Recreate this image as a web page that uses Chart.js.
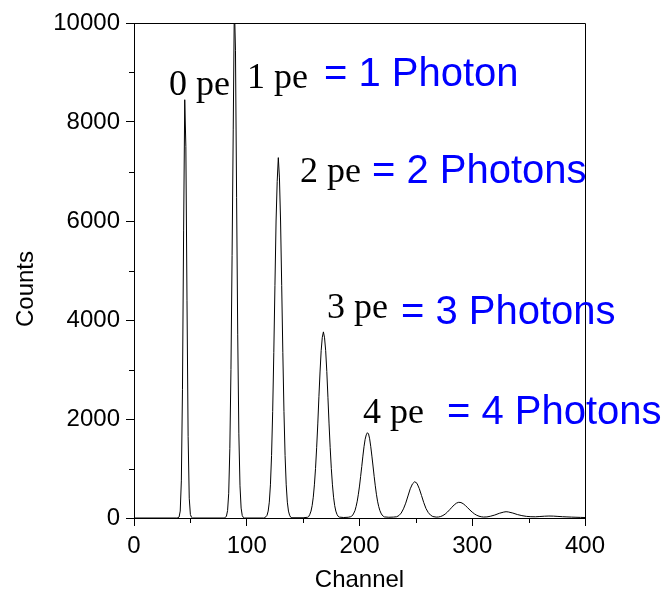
<!DOCTYPE html>
<html>
<head>
<meta charset="utf-8">
<script src="https://cdn.jsdelivr.net/npm/chart.js@4.4.1/dist/chart.umd.min.js"></script>
<style>
    html, body { margin: 0; padding: 0; background: #fff; }
    #wrap { width: 664px; height: 595px; }
</style>
</head>
<body>
<div id="wrap"><canvas id="spectrum" width="664" height="595"></canvas></div>
<script>
// Channel / counts
const channels = [
    0, 38, 39, 40, 41, 42, 43, 44, 45, 46, 47, 48, 49, 50, 51, 52,
    80, 81, 82, 83, 84, 85, 86, 87, 88, 89, 90, 91, 92, 93, 94, 95, 96, 97, 98,
    115, 116, 117, 118, 119, 120, 121, 122, 123, 124, 125, 126, 127, 128, 129, 130,
    131, 132, 133, 134, 135, 136, 137, 138, 139, 140,
    150, 154, 155, 156, 157, 158, 159, 160, 161, 162, 163, 164, 165, 166, 167, 168,
    169, 170, 171, 172, 173, 174, 175, 176, 177, 178, 179, 180, 181, 182,
    186, 190, 192, 193, 194, 195, 196, 197, 198, 199, 200, 201, 202, 203, 204, 205,
    206, 207, 208, 209, 210, 211, 212, 213, 214, 215, 216, 217, 218, 219, 220, 221, 222,
    226, 230, 233, 235, 237, 239, 241, 243, 245, 247, 249, 251, 253, 255, 257, 259,
    261, 263, 265, 268,
    270, 272, 274, 276, 278, 280, 282, 284, 286, 288, 290, 292, 294, 296, 298, 300,
    302, 304, 306, 308, 310,
    313, 316, 320, 324, 328, 330, 332, 336, 340, 344, 348, 352,
    356, 360, 364, 368, 372, 376, 380, 384, 388, 392, 396, 400
];
const counts = [
    0, 0, 5, 20, 140, 750, 2600, 5800, 8450, 7500, 4400, 1650, 400, 70, 15, 0,
    0, 10, 40, 150, 500, 1400, 3000, 5300, 7840, 10400, 9450, 6480, 3700, 1700, 650, 200, 50, 10, 0,
    0, 10, 25, 55, 140, 320, 670, 1260, 2150, 3340, 4700, 6000, 6800, 7280, 6870, 6000,
    4700, 3340, 2150, 1260, 670, 320, 140, 55, 15, 5,
    5, 15, 30, 75, 140, 250, 420, 670, 1000, 1420, 1900, 2450, 2950, 3380, 3650, 3760,
    3640, 3380, 2960, 2440, 1900, 1420, 1000, 670, 420, 250, 140, 75, 35, 18,
    10, 15, 25, 35, 60, 100, 150, 235, 340, 480, 645, 840, 1040, 1250, 1440, 1590,
    1680, 1723, 1700, 1600, 1440, 1250, 1050, 840, 650, 480, 340, 235, 155, 100, 60, 38, 22,
    15, 18, 25, 50, 100, 185, 300, 445, 590, 690, 733, 700, 595, 455, 310, 190,
    110, 58, 30, 18,
    20, 30, 50, 80, 120, 168, 218, 265, 300, 317, 312, 288, 250, 205, 160, 118,
    82, 55, 36, 25, 19,
    22, 35, 60, 95, 120, 127, 122, 100, 70, 48, 33, 26,
    24, 30, 36, 40, 38, 32, 26, 22, 18, 15, 12, 10
];

const xTicks = [0, 100, 200, 300, 400];
const yTicks = [0, 2000, 4000, 6000, 8000, 10000];
const xMinor = [50, 150, 250, 350];
const yMinor = [1000, 3000, 5000, 7000, 9000];

const peLabels = ['0 pe', '1 pe', '2 pe', '3 pe', '4 pe'];
const photonLabels = ['= 1 Photon', '= 2 Photons', '= 3 Photons', '= 4 Photons'];

const sansFont = '"Liberation Sans", Arial, Helvetica, sans-serif';
const serifFont = '"Liberation Serif", "Times New Roman", serif';

// frame, minor ticks, y title and the annotations
const decorPlugin = {
    id: 'decor',
    afterDraw(chart) {
        const ctx = chart.ctx;
        const area = chart.chartArea;
        const xs = chart.scales.x;
        const ys = chart.scales.y;
        ctx.save();
        ctx.strokeStyle = '#000';
        ctx.lineWidth = 1;
        ctx.beginPath();
        ctx.moveTo(area.left, Math.round(area.top) + 0.5);
        ctx.lineTo(Math.round(area.right) + 0.5, Math.round(area.top) + 0.5);
        ctx.lineTo(Math.round(area.right) + 0.5, area.bottom);
        // minor ticks
        xMinor.forEach(v => {
            const px = Math.round(xs.getPixelForValue(v)) + 0.5;
            ctx.moveTo(px, area.bottom);
            ctx.lineTo(px, area.bottom + 5);
        });
        yMinor.forEach(v => {
            const py = Math.round(ys.getPixelForValue(v)) + 0.5;
            ctx.moveTo(area.left, py);
            ctx.lineTo(area.left - 5, py);
        });
        ctx.stroke();

        // y axis title
        ctx.fillStyle = '#000';
        ctx.font = '24px ' + sansFont;
        ctx.textAlign = 'center';
        ctx.textBaseline = 'alphabetic';
        ctx.save();
        ctx.translate(33, 289);
        ctx.rotate(-Math.PI / 2);
        ctx.fillText('Counts', 0, 0);
        ctx.restore();

        // peak labels
        ctx.textAlign = 'left';
        ctx.font = '36px ' + serifFont;
        const pePos = [[169, 95], [247, 88], [300, 182], [327, 318], [363, 423]];
        peLabels.forEach((t, i) => ctx.fillText(t, pePos[i][0], pePos[i][1]));

        ctx.fillStyle = '#0000ff';
        ctx.font = '40px ' + sansFont;
        const phPos = [[324, 86], [372, 183], [401, 324], [447, 424]];
        photonLabels.forEach((t, i) => ctx.fillText(t, phPos[i][0], phPos[i][1]));
        ctx.restore();
    }
};

new Chart(document.getElementById('spectrum').getContext('2d'), {
    type: 'line',
    data: {
        datasets: [{
            data: channels.map((c, i) => ({ x: c, y: counts[i] })),
            borderColor: '#000',
            borderWidth: 1,
            pointRadius: 0,
            tension: 0,
            fill: false
        }]
    },
    options: {
        responsive: false,
        animation: false,
        layout: { padding: { top: 23, right: 79, left: 0, bottom: 0 } },
        plugins: {
            legend: { display: false },
            tooltip: { enabled: false }
        },
        scales: {
            x: {
                type: 'linear',
                min: 0,
                max: 400,
                afterBuildTicks: (s) => { s.ticks = xTicks.map(v => ({ value: v })); },
                afterFit: (s) => { s.height = 77; },
                ticks: {
                    color: '#000',
                    padding: 6,
                    maxRotation: 0,
                    callback: (v) => String(v),
                    font: { size: 24, family: sansFont }
                },
                grid: {
                    drawOnChartArea: false,
                    drawTicks: true,
                    tickLength: 8,
                    tickColor: '#000'
                },
                border: { color: '#000', width: 1 },
                title: {
                    display: true,
                    text: 'Channel',
                    color: '#000',
                    padding: { top: 0, bottom: 0 },
                    font: { size: 24, family: sansFont }
                }
            },
            y: {
                type: 'linear',
                min: 0,
                max: 10000,
                afterBuildTicks: (s) => { s.ticks = yTicks.map(v => ({ value: v })); },
                afterFit: (s) => { s.width = 134; },
                ticks: {
                    color: '#000',
                    padding: 6,
                    callback: (v) => String(v),
                    font: { size: 24, family: sansFont }
                },
                grid: {
                    drawOnChartArea: false,
                    drawTicks: true,
                    tickLength: 8,
                    tickColor: '#000'
                },
                border: { color: '#000', width: 1 }
            }
        }
    },
    plugins: [decorPlugin]
});
</script>
</body>
</html>
